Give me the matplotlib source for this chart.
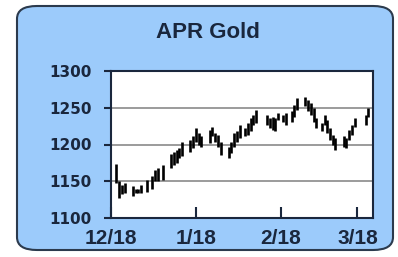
import matplotlib
matplotlib.use("Agg")
import matplotlib.pyplot as plt
from matplotlib.patches import FancyBboxPatch

# trading days, counted from 12/18
day = [2, 3, 4, 5, 8, 9, 10, 11, 13, 15, 16, 17, 19, 22, 23, 24, 25, 26,
       29, 30, 31, 32, 33, 36, 37, 38, 39, 40, 43, 44, 45, 46, 47, 49, 50,
       51, 52, 53, 57, 58, 59, 60, 61, 63, 64, 66, 67, 68, 71, 72, 73, 74,
       75, 77, 78, 79, 80, 81, 82, 85, 86, 87, 88, 89, 93, 94]
high = [1173, 1150, 1145, 1148, 1143, 1140, 1140, 1145, 1152, 1157, 1165,
        1168, 1172, 1187, 1190, 1193, 1195, 1203, 1206, 1211, 1222, 1215,
        1211, 1220, 1224, 1216, 1213, 1204, 1197, 1204, 1215, 1218, 1227,
        1222, 1229, 1236, 1240, 1247, 1240, 1236, 1238, 1236, 1243, 1240,
        1243, 1245, 1254, 1263, 1265, 1261, 1256, 1249, 1236, 1229, 1240,
        1233, 1222, 1213, 1209, 1211, 1209, 1220, 1227, 1236, 1240, 1249]
low = [1147, 1127, 1132, 1134, 1130, 1134, 1134, 1134, 1136, 1139, 1150,
       1150, 1152, 1168, 1172, 1175, 1181, 1184, 1190, 1195, 1204, 1200,
       1197, 1202, 1211, 1204, 1197, 1186, 1181, 1188, 1197, 1204, 1209,
       1211, 1213, 1218, 1227, 1229, 1227, 1222, 1220, 1218, 1233, 1231,
       1227, 1231, 1238, 1247, 1252, 1245, 1240, 1231, 1222, 1218, 1227,
       1215, 1206, 1200, 1193, 1197, 1195, 1206, 1213, 1224, 1227, 1238]

tick_days = [0, 31, 62, 90]
tick_labels = ["12/18", "1/18", "2/18", "3/18"]
y_ticks = [1100, 1150, 1200, 1250, 1300]

navy = "#1a273d"
fig = plt.figure(figsize=(3.98, 2.57), dpi=100)
fig.patch.set_facecolor("white")

# rounded blue panel, behind the axes
box = FancyBboxPatch((17 / 398, 7 / 257), 376 / 398, 244 / 257,
                     boxstyle="round,pad=0,rounding_size=0.05",
                     transform=fig.transFigure, facecolor="#9ccbfb",
                     edgecolor="#2b3a4d", linewidth=1.5, zorder=-5)
fig.patches.append(box)

fig.text(0.522, 0.872, "APR Gold", ha="center", va="center",
         fontsize=16, fontweight="bold", color=navy, family="Liberation Sans")

ax = fig.add_axes([111 / 398, 39 / 257, 262 / 398, 147 / 257])
ax.set_zorder(5)
ax.set_facecolor("white")
ax.vlines(day, low, high, color="black", linewidth=1.9, zorder=3)

ax.set_xlim(0, 95.7)
ax.set_ylim(1100, 1300)
ax.set_yticks(y_ticks)
ax.set_xticks(tick_days)
ax.set_xticks(tick_days, minor=True)
ax.set_xticklabels(tick_labels)
for v in y_ticks[1:-1]:
    ax.axhline(v, color="#8a8a8a", linewidth=1.2, zorder=1)

for s in ax.spines.values():
    s.set_color(navy)
    s.set_linewidth(1.5)
ax.tick_params(axis="y", direction="out", length=5, width=1.5, color=navy,
               labelsize=11, labelcolor=navy, pad=9)
ax.tick_params(axis="x", which="major", direction="in", length=8, width=1.5,
               color=navy, labelsize=15, labelcolor=navy, pad=8)
ax.tick_params(axis="x", which="minor", direction="out", length=4, width=1.5,
               color=navy)
for lab in ax.get_xticklabels():
    lab.set_fontweight("bold")
    lab.set_family("Liberation Sans")
for lab in ax.get_yticklabels():
    lab.set_fontweight("bold")
    lab.set_family("DejaVu Sans")

fig.savefig("out.png", dpi=100)
